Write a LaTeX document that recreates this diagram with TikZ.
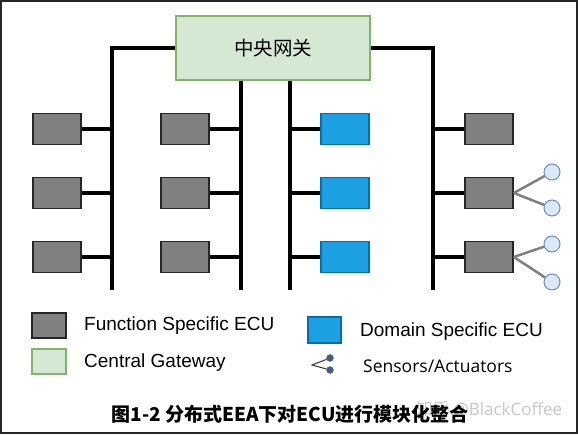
\documentclass[tikz,border=0pt]{standalone}
\usepackage{fontspec}
\setmainfont{Liberation Sans}
\newfontfamily\cjkfont{Noto Sans CJK SC}
\newfontfamily\sensfont{Open Sans}
\usetikzlibrary{positioning,calc}

\definecolor{ecugray}{HTML}{808080}
\definecolor{gwfill}{HTML}{D5E8D4}
\definecolor{gwline}{HTML}{82B366}
\definecolor{domfill}{HTML}{1BA1E2}
\definecolor{domline}{HTML}{006EAF}
\definecolor{sensfill}{HTML}{DAE8FC}
\definecolor{sensline}{HTML}{6C8EBF}
\definecolor{dotblue}{HTML}{3E5F8A}

\tikzset{
  fecu/.style={draw=black!85, fill=ecugray, line width=1.5pt,
    minimum width=48pt, minimum height=31pt, inner sep=0pt},
  decu/.style={fecu, draw=domline, fill=domfill, line width=1.2pt},
  gwbox/.style={draw=gwline, fill=gwfill, line width=1.2pt,
    minimum width=194pt, minimum height=64pt, inner sep=0pt},
  bus/.style={line width=4pt, black},
  stub/.style={line width=3.5pt, black},
  sensor/.style={circle, draw=sensline, fill=sensfill, line width=1pt,
    minimum size=16pt, inner sep=0pt},
  sline/.style={line width=2.5pt, ecugray},
  legtext/.style={anchor=west, inner sep=0pt, font=\fontsize{19}{21}\selectfont}
}

\begin{document}
\begin{tikzpicture}[x=1pt, y=-1pt]
  \useasboundingbox (0,0) rectangle (578,434);
  \draw[black!85, line width=2pt] (1,1) rectangle (577,433);

  % Gateway
  \node[gwbox] (gw) at (273,48) {\cjkfont\fontsize{19.5}{21}\selectfont 中央网关};

  % Bus ends
  \coordinate (b1) at (112,290);
  \coordinate (b2) at (241,290);
  \coordinate (b3) at (290,290);
  \coordinate (b4) at (433,290);

  \draw[bus] (gw.west) -| (b1);
  \draw[bus] (gw.east) -| (b4);
  \draw[bus] (gw.south -| b2) -- (b2);
  \draw[bus] (gw.south -| b3) -- (b3);

  % ECUs
  \foreach \r/\y in {1/129, 2/193, 3/257} {
    \node[fecu] (fa\r) at (57,\y) {};
    \node[fecu] (fb\r) at (185,\y) {};
    \node[decu] (dc\r) at (345,\y) {};
    \node[fecu] (fd\r) at (489,\y) {};
    \draw[stub] (fa\r.east) -- (fa\r.east -| b1);
    \draw[stub] (fb\r.east) -- (fb\r.east -| b2);
    \draw[stub] (dc\r.west) -- (dc\r.west -| b3);
    \draw[stub] (fd\r.west) -- (fd\r.west -| b4);
  }

  % Sensors / actuators
  \node[sensor] (s1) at (552,172) {};
  \node[sensor] (s2) at (552,208) {};
  \node[sensor] (s3) at (552,244) {};
  \node[sensor] (s4) at (552,282) {};
  \draw[sline] (fd2.east) -- (s1);
  \draw[sline] (fd2.east) -- (s2);
  \draw[sline] (fd3.east) -- (s3);
  \draw[sline] (fd3.east) -- (s4);

  % Legend
  \node[fecu, minimum width=34pt, minimum height=25pt] (lf) at (49,325.5) {};
  \node[gwbox, minimum width=34pt, minimum height=25pt] (lg) at (49,361.5) {};
  \node[decu, minimum width=33pt, minimum height=26pt] (ld) at (324.5,330) {};
  \node[legtext] (tf) at (84,326) {Function Specific ECU};
  \node[legtext] (tg) at (84,363) {Central Gateway};
  \node[legtext] (td) at (360,332) {Domain Specific ECU};

  \coordinate (ip) at (312,365);
  \node[circle, fill=dotblue, draw=black!60, minimum size=7pt, inner sep=0pt] (i1) at (330,358) {};
  \node[circle, fill=dotblue, draw=black!60, minimum size=7pt, inner sep=0pt] (i2) at (330,370) {};
  \draw[black!80, line width=1pt] (i1) -- (ip) -- (i2);
  \node[anchor=west, inner sep=0pt, font=\sensfont\fontsize{17.5}{20}\selectfont] (ts) at (363,366) {Sensors/Actuators};

  % Caption and watermark
  \node[font=\sensfont\fontsize{17}{20}\selectfont, text=black!22] (wm) at (489,409) {\cjkfont 知乎 \sensfont @BlackCoffee};
  \node[font=\cjkfont\bfseries\fontsize{19}{22}\selectfont] (cap) at (290,414) {图1-2 分布式EEA下对ECU进行模块化整合};
\end{tikzpicture}
\end{document}
